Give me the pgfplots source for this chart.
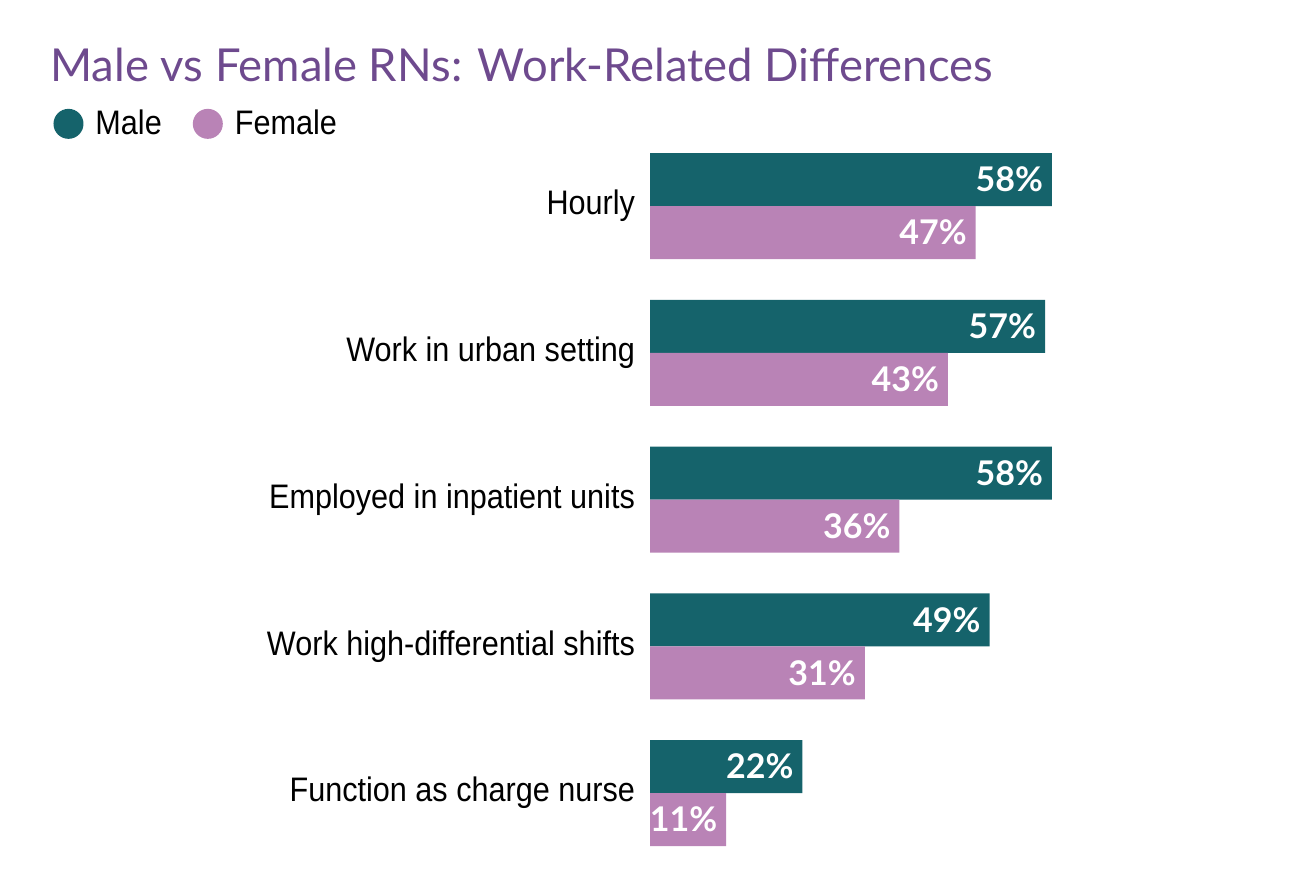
\documentclass[border=0pt]{standalone}
\usepackage{fontspec}
\setmainfont{Lato}
\newfontfamily\condfont[FakeStretch=0.9]{Liberation Sans}
\usepackage{pgfplots}
\pgfplotsset{compat=1.18}
\definecolor{male}{HTML}{15636B}
\definecolor{female}{HTML}{B983B6}
\definecolor{titlec}{HTML}{6E4A8E}
\begin{document}
\begin{tikzpicture}
\useasboundingbox (0,0) rectangle (645pt,439pt);
\node[anchor=base west, inner sep=0, text=titlec, font=\fontsize{22.7}{27}\selectfont] at (25pt,398pt) {Male vs Female RNs: Work-Related Differences};
\begin{axis}[
  at={(325pt,5.8pt)}, anchor=south west,
  scale only axis, width=207.9pt, height=366.875pt,
  xmin=0, xmax=60, ymin=-0.5, ymax=4.5,
  xbar, bar width=26.5pt,
  axis line style={draw=none},
  xtick=\empty,
  ytick={0,1,2,3,4},
  yticklabels={Function as charge nurse, Work high-differential shifts, Employed in inpatient units, Work in urban setting, Hourly},
  major tick length=0pt,
  yticklabel style={font=\condfont\fontsize{17}{20}\selectfont, xshift=-4pt},
  clip=false,
  /pgf/number format/assume math mode=true,
  nodes near coords={\pgfmathprintnumber{\pgfplotspointmeta}\%},
  nodes near coords style={anchor=east, text=white, font=\bfseries\fontsize{17}{20}\selectfont, xshift=-1pt},
  legend style={at={(-1.450,1.012)}, anchor=west, draw=none, fill=none, legend columns=2, font=\condfont\fontsize{17}{20}\selectfont, /tikz/every even column/.append style={column sep=13.5pt}},
  legend image code/.code={\fill[#1] (0pt,0) circle (7.5pt); \path (11.5pt,0);},
]
\addplot[fill=male, draw=none, bar shift=13.25pt] coordinates {(22,0) (49,1) (58,2) (57,3) (58,4)};
\addplot[fill=female, draw=none, bar shift=-13.25pt] coordinates {(11,0) (31,1) (36,2) (43,3) (47,4)};
\legend{Male, Female}
\end{axis}
\end{tikzpicture}
\end{document}
